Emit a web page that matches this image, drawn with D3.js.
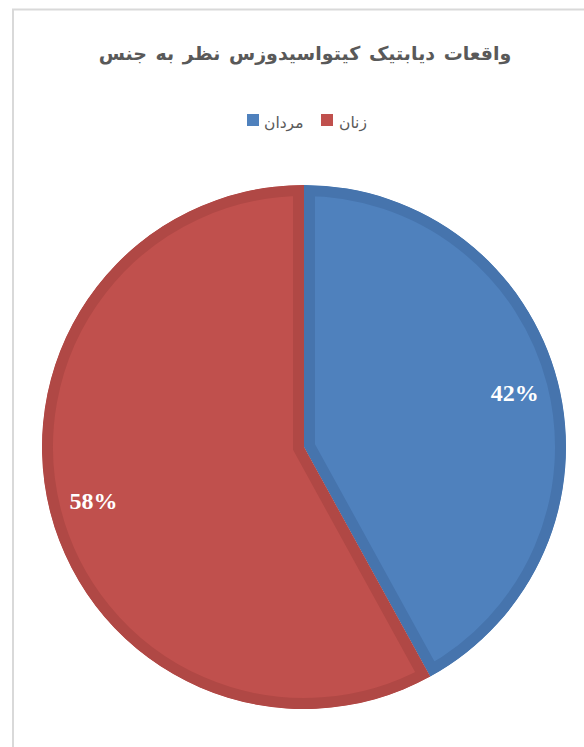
<!DOCTYPE html>
<html><head><meta charset="utf-8">
<script src="https://cdn.jsdelivr.net/npm/d3@7"></script>
<style>html,body{margin:0;padding:0;background:#fff;}svg{display:block;}
.lbl{font-family:'Liberation Serif','Times New Roman',serif;font-weight:bold;}</style>
</head><body>
<svg id="c" width="584" height="747"></svg>
<script>
const categories = ["مردان", "زنان"];
const values = [42, 58];
const colors = ["#4f81bd", "#c0504d"];
const bandColors = ["#4674ad", "#b04845"];
const title = "واقعات دیابتیک کیتواسیدوزس نظر به جنس";

const svg = d3.select("#c");
// chart border
svg.append("rect").attr("x", 13).attr("y", 9.5).attr("width", 600).attr("height", 760)
  .attr("fill", "#fff").attr("stroke", "#d9d9d9").attr("stroke-width", 2);

svg.append("text").attr("x", 305).attr("y", 60).attr("text-anchor", "middle")
  .attr("font-family", "DejaVu Sans, sans-serif").attr("font-weight", "bold")
  .attr("font-size", 19).attr("fill", "#595959").attr("direction", "rtl")
  .attr("word-spacing", 2).text(title);

// legend
const legendItems = [{i:0, sx:247, tx:264}, {i:1, sx:321, tx:339}];
const lg = svg.append("g");
legendItems.forEach(d => {
  lg.append("rect").attr("x", d.sx).attr("y", 114).attr("width", 12).attr("height", 12).attr("fill", colors[d.i]);
  lg.append("text").attr("x", d.tx).attr("y", 128).attr("text-anchor", "start")
    .attr("font-family", "DejaVu Sans, sans-serif").attr("font-size", 15.5).attr("fill", "#595959")
    .text(categories[d.i]);
});

const cx = 304, cy = 447, r = 262;
const pie = d3.pie().sort(null).value(d => d)(values);
const arc = d3.arc().innerRadius(0).outerRadius(r);
const g = svg.append("g").attr("transform", `translate(${cx},${cy})`);
const defs = svg.append("defs");
pie.forEach((p, i) => {
  defs.append("clipPath").attr("id", "clip" + i).append("path").attr("d", arc(p));
  g.append("path").attr("d", arc(p)).attr("fill", colors[i])
    .attr("stroke", bandColors[i]).attr("stroke-width", 22).attr("stroke-linejoin", "miter")
    .attr("clip-path", `url(#clip${i})`);
});
const labelArc = d3.arc().innerRadius(r * 0.83).outerRadius(r * 0.83);
pie.forEach((p, i) => {
  const [x, y] = labelArc.centroid(p);
  g.append("text").attr("class", "lbl").attr("x", x).attr("y", y + 8).attr("text-anchor", "middle")
    .attr("font-size", 24).attr("fill", "#fff").text(values[i] + "%");
});
</script>
</body></html>
